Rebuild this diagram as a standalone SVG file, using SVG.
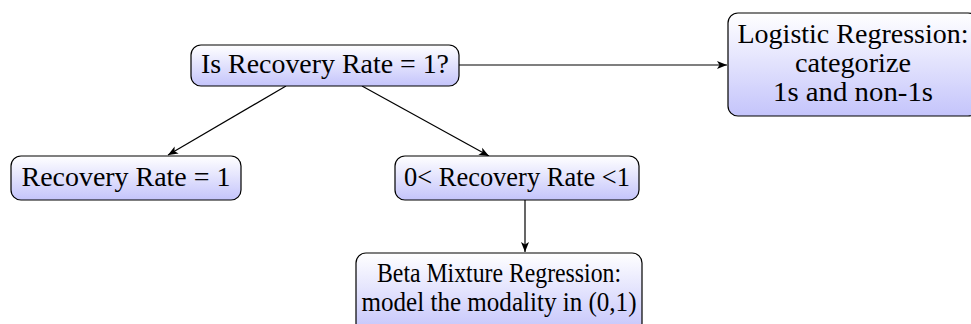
<svg xmlns="http://www.w3.org/2000/svg" width="971" height="324" viewBox="0 0 971 324">
<defs>
<linearGradient id="g" x1="0" y1="0" x2="0" y2="1">
<stop offset="0" stop-color="#ffffff"/>
<stop offset="1" stop-color="#c4c4fb"/>
</linearGradient>
<marker id="a" viewBox="0 0 10 10" refX="10" refY="5" markerWidth="10" markerHeight="10" markerUnits="userSpaceOnUse" orient="auto">
<path d="M0,1 L10,5 L0,9 L2.5,5 Z" fill="#000"/>
</marker>
<style>
.box{fill:url(#g);stroke:#000;stroke-width:1.2}
text{font-family:"Liberation Serif","DejaVu Serif",serif;font-size:27px;fill:#000;text-anchor:middle}
.c{stroke:#000;stroke-width:1.2;fill:none;marker-end:url(#a)}
</style>
</defs>
<g id="connectors">
<line class="c" x1="459" y1="65" x2="727" y2="65"/>
<line class="c" x1="286" y1="86" x2="168" y2="155"/>
<line class="c" x1="362" y1="86" x2="489" y2="156"/>
<line class="c" x1="525" y1="200" x2="525" y2="252"/>
</g>
<g id="n1">
<rect class="box" x="191" y="45" width="268" height="41" rx="10"/>
<text x="325" y="73" textLength="248" lengthAdjust="spacingAndGlyphs">Is Recovery Rate = 1?</text>
</g>
<g id="n2">
<rect class="box" x="728" y="13" width="250" height="103" rx="10"/>
<text x="853" y="43" textLength="231" lengthAdjust="spacingAndGlyphs">Logistic Regression:</text>
<text x="853" y="72" textLength="116" lengthAdjust="spacingAndGlyphs">categorize</text>
<text x="853" y="101" textLength="160" lengthAdjust="spacingAndGlyphs">1s and non-1s</text>
</g>
<g id="n3">
<rect class="box" x="11" y="156" width="230" height="44" rx="10"/>
<text x="126" y="186" textLength="209" lengthAdjust="spacingAndGlyphs">Recovery Rate = 1</text>
</g>
<g id="n4">
<rect class="box" x="395" y="156" width="244" height="44" rx="10"/>
<text x="517" y="186" textLength="226" lengthAdjust="spacingAndGlyphs">0&lt; Recovery Rate &lt;1</text>
</g>
<g id="n5">
<rect class="box" x="356" y="253" width="286" height="80" rx="10"/>
<text x="499" y="282" textLength="244" lengthAdjust="spacingAndGlyphs">Beta Mixture Regression:</text>
<text x="499" y="311" textLength="275" lengthAdjust="spacingAndGlyphs">model the modality in (0,1)</text>
</g>
</svg>
